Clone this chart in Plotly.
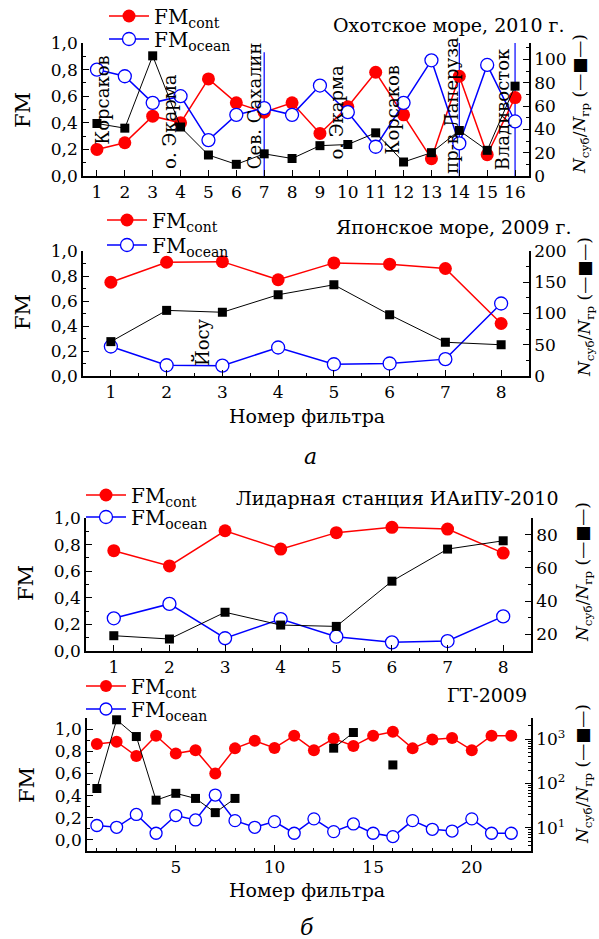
import plotly.graph_objects as go

FONT = "DejaVu Serif"
W, H = 599, 939
RED, BLUE, BLACK = "#ff0000", "#0000ff", "#000000"

# ---------------- data ----------------
# (a) top: Sea of Okhotsk, 2010
okh_filters = list(range(1, 17))
okh_fm_cont = [0.20, 0.25, 0.45, 0.40, 0.73, 0.55, 0.48, 0.55, 0.32, 0.52, 0.78, 0.46, 0.13, 0.75, 0.16, 0.59]
okh_fm_ocean = [0.80, 0.75, 0.55, 0.60, 0.27, 0.46, 0.51, 0.46, 0.68, 0.48, 0.22, 0.55, 0.87, 0.245, 0.835, 0.41]
okh_ratio = [45, 41, 103, 42, 18, 10, 19, 15, 26, 27, 37, 12, 20, 39, 22, 77]
okh_places = ["Корсаков", "о. Экарма", "Сев. Сахалин", "о. Экарма", "Корсаков", "пр-в Лаперуза", "Владивосток"]
okh_place_x = [1.2, 3.6, 6.66, 9.59, 11.62, 13.71, 15.56]
okh_place_y = [0.57, 0.41, 0.53, 0.48, 0.50, 0.53, 0.50]
okh_port_x = [7, 14, 16]
okh_port_top = [0.93, 1.0, 1.0]

# (a) bottom: Sea of Japan, 2009
jap_filters = list(range(1, 9))
jap_fm_cont = [0.75, 0.91, 0.915, 0.77, 0.905, 0.895, 0.86, 0.42]
jap_fm_ocean = [0.236, 0.086, 0.083, 0.228, 0.094, 0.10, 0.135, 0.58]
jap_ratio = [55, 105, 102, 130, 146, 98, 54, 50]
jap_places = ["Йосу"]
jap_place_x = [2.63]
jap_place_y = [0.27]

# (b) top: lidar station IAiPU-2010
lid_filters = list(range(1, 9))
lid_fm_cont = [0.754, 0.64, 0.904, 0.766, 0.89, 0.93, 0.917, 0.736]
lid_fm_ocean = [0.246, 0.354, 0.096, 0.24, 0.108, 0.065, 0.075, 0.26]
lid_ratio = [19.2, 17.2, 33.3, 25.6, 24.8, 52, 71.3, 76.3]

# (b) bottom: GT-2009
gt_filters = list(range(1, 23))
gt_fm_cont = [0.865, 0.886, 0.757, 0.94, 0.78, 0.81, 0.60, 0.826, 0.895, 0.83, 0.94,
              0.81, 0.915, 0.847, 0.94, 0.976, 0.826, 0.907, 0.92, 0.81, 0.94, 0.94]
gt_fm_ocean = [0.13, 0.114, 0.23, 0.06, 0.22, 0.18, 0.405, 0.174, 0.114, 0.165, 0.06,
               0.19, 0.075, 0.144, 0.06, 0.03, 0.174, 0.096, 0.08, 0.19, 0.06, 0.06]
gt_ratio = [77, 2735, 1145, 42, 60, 46, 22, 46, None, None, None, None,
            626, 1410, None, 262, None, None, None, None, None, None]

titles = ["Охотское море, 2010 г.", "Японское море, 2009 г.", "Лидарная станция ИАиПУ-2010", "ГТ-2009"]
xlabel = "Номер фильтра"
FM_CONT = "FM<sub>cont</sub>"
FM_OCEAN = "FM<sub>ocean</sub>"
RIGHT_TITLE = "<i>N</i><sub>суб</sub>/<i>N</i><sub>гр</sub> (—■—)"

# ---------------- layout helpers ----------------
def px_x(p):
    return p / W

def px_y(p):
    return 1 - p / H

# panel pixel boxes: (left, right, top, bottom)
boxes = [(83, 529, 43, 176), (83, 529, 251, 376), (86, 531, 518, 651), (87, 531, 718, 851)]

fig = go.Figure()

def add_panel(i, xs, cont, ocean, ratio, legend_cont, legend_ocean, msize=13, ssize=9):
    xa = "x" if i == 0 else f"x{i+1}"
    ya_l = f"y{2*i+1}" if i > 0 else "y"
    ya_r = f"y{2*i+2}"
    fig.add_trace(go.Scatter(x=xs, y=ratio, mode="lines+markers", xaxis=xa, yaxis=ya_r,
                             line=dict(color=BLACK, width=1), connectgaps=False,
                             marker=dict(symbol="square", size=ssize, color=BLACK),
                             showlegend=False, cliponaxis=False))
    fig.add_trace(go.Scatter(x=xs, y=cont, mode="lines+markers", xaxis=xa, yaxis=ya_l,
                             line=dict(color=RED, width=1.5),
                             marker=dict(symbol="circle", size=msize, color=RED),
                             name=FM_CONT, legend=legend_cont, cliponaxis=False))
    fig.add_trace(go.Scatter(x=xs, y=ocean, mode="lines+markers", xaxis=xa, yaxis=ya_l,
                             line=dict(color=BLUE, width=1.5),
                             marker=dict(symbol="circle", size=msize, color="white",
                                         line=dict(color=BLUE, width=1.3)),
                             name=FM_OCEAN, legend=legend_ocean, cliponaxis=False))

add_panel(0, okh_filters, okh_fm_cont, okh_fm_ocean, okh_ratio, "legend", "legend2")
add_panel(1, jap_filters, jap_fm_cont, jap_fm_ocean, jap_ratio, "legend3", "legend4")
add_panel(2, lid_filters, lid_fm_cont, lid_fm_ocean, lid_ratio, "legend5", "legend6")
add_panel(3, gt_filters, gt_fm_cont, gt_fm_ocean, gt_ratio, "legend7", "legend8", msize=12, ssize=9)

tickfont = dict(family=FONT, size=17, color=BLACK)
axis_common = dict(showline=True, linecolor=BLACK, linewidth=1.5, ticks="inside",
                   ticklen=6, tickwidth=1.2, tickcolor=BLACK, showgrid=False,
                   zeroline=False, tickfont=tickfont, fixedrange=True, automargin=False)

xranges = [[0.5, 16.5], [0.5, 8.5], [0.5, 8.5], [0.5, 23]]
xdticks = [1, 1, 1, 5]
xminor = [None, 0.5, 0.5, 1]
yl_ranges = [[0, 1.0], [0, 1.0], [0, 1.0], [-0.1, 1.1]]
yr_ranges = [[0, 114], [0, 200], [10, 90], [0.477, 3.477]]
yr_dtick = [20, 50, 20, None]
yr_minor = [10, 25, 10, None]

lay = {}
for i, (l, r, t, b) in enumerate(boxes):
    xname = "xaxis" if i == 0 else f"xaxis{i+1}"
    yl = "yaxis" if i == 0 else f"yaxis{2*i+1}"
    yr = f"yaxis{2*i+2}"
    xa_anchor = f"y{2*i+1}" if i > 0 else "y"
    xa_id = "x" if i == 0 else f"x{i+1}"
    xd = dict(axis_common, domain=[px_x(l), px_x(r)], range=xranges[i], anchor=xa_anchor,
              tickmode="linear", tick0=0 if i == 3 else 1, dtick=xdticks[i])
    if xminor[i]:
        xd["minor"] = dict(ticks="inside", ticklen=3, tickwidth=1, tickcolor=BLACK, dtick=xminor[i],
                           tick0=0.5 if xminor[i] == 0.5 else 0)
    lay[xname] = xd
    lay[yl] = dict(axis_common, domain=[px_y(b), px_y(t)], range=yl_ranges[i], anchor=xa_id,
                   tickmode="array", tickvals=[0, 0.2, 0.4, 0.6, 0.8, 1.0], tickformat=".1f",
                   minor=dict(ticks="inside", ticklen=3, tickwidth=1, tickcolor=BLACK,
                              tickmode="array", tickvals=[0.1, 0.3, 0.5, 0.7, 0.9]))
    rd = dict(axis_common, domain=[px_y(b), px_y(t)], range=yr_ranges[i], anchor=xa_id,
              overlaying="y" if i == 0 else f"y{2*i+1}", side="right")
    if i < 3:
        rd.update(tickmode="linear", tick0=0, dtick=yr_dtick[i],
                  minor=dict(ticks="inside", ticklen=3, tickwidth=1, tickcolor=BLACK, dtick=yr_minor[i], tick0=0))
    else:
        minors = []
        for dec in (1, 10, 100, 1000):
            for m in range(2, 10):
                v = m * dec
                if 3 <= v <= 3000:
                    minors.append(v)
        rd.update(type="log", tickmode="array", tickvals=[10, 100, 1000],
                  ticktext=["10<sup>1</sup>", "10<sup>2</sup>", "10<sup>3</sup>"],
                  minor=dict(ticks="inside", ticklen=3, tickwidth=1, tickcolor=BLACK,
                             tickmode="array", tickvals=minors))
    lay[yr] = rd

# legends: one per item, placed at pixel positions (container coords -> no automargin)
leg_pos = [(104, 16), (104, 39), (102, 220), (102, 245), (81, 495), (81, 517), (81, 686), (81, 709)]
leg_names = ["legend", "legend2", "legend3", "legend4", "legend5", "legend6", "legend7", "legend8"]
for name, (lx, ly) in zip(leg_names, leg_pos):
    lay[name] = dict(x=px_x(lx), y=px_y(ly), xref="container", yref="container",
                     xanchor="left", yanchor="middle",
                     bgcolor="rgba(0,0,0,0)", borderwidth=0, itemwidth=40,
                     font=dict(family=FONT, size=20, color=BLACK))

def ann(text, x, y, size, xref="paper", yref="paper", angle=0, xanchor="center"):
    return dict(text=text, x=x, y=y, xref=xref, yref=yref, textangle=angle,
                xanchor=xanchor, yanchor="middle", showarrow=False,
                font=dict(family=FONT, size=size, color=BLACK))

annotations = []
# panel titles (right-aligned)
title_pos = [(567, 25), (573, 227), (560, 498), (529, 695)]
for txt, (tx, ty) in zip(titles, title_pos):
    annotations.append(ann(txt, px_x(tx), px_y(ty), 19, xanchor="right"))
# left "FM" axis titles
for (fx, fy) in [(23, 110), (23, 312), (26, 583), (27, 785)]:
    annotations.append(ann("FM", px_x(fx), px_y(fy), 21, angle=-90))
# right axis titles
for (fx, fy) in [(581, 104), (585, 307), (583, 572), (583, 774)]:
    annotations.append(ann(RIGHT_TITLE, px_x(fx), px_y(fy), 17, angle=-90))
# x axis titles and panel letters
for (fx, fy) in [(307, 416), (307, 890)]:
    annotations.append(ann(xlabel, px_x(fx), px_y(fy), 19))
for txt, (fx, fy) in [("<i>а</i>", (310, 457)), ("<i>б</i>", (307, 927))]:
    annotations.append(ann(txt, px_x(fx), px_y(fy), 22))
# place names (rotated)
for txt, x, y in zip(okh_places, okh_place_x, okh_place_y):
    annotations.append(ann(txt, x, y, 18, xref="x", yref="y", angle=-90))
for txt, x, y in zip(jap_places, jap_place_x, jap_place_y):
    annotations.append(ann(txt, x, y, 18, xref="x2", yref="y3", angle=-90))

shapes = []
for x, top in zip(okh_port_x, okh_port_top):
    shapes.append(dict(type="line", xref="x", yref="y", x0=x, x1=x, y0=0, y1=top,
                       line=dict(color=BLUE, width=1.2), layer="below"))

fig.update_layout(width=W, height=H, margin=dict(l=0, r=0, t=0, b=0, autoexpand=False),
                  paper_bgcolor="white", plot_bgcolor="white", separators=", ",
                  annotations=annotations, shapes=shapes, **lay)

fig.write_html("out.html", config={"displayModeBar": False},
               post_script="document.body.style.margin='0px';")
